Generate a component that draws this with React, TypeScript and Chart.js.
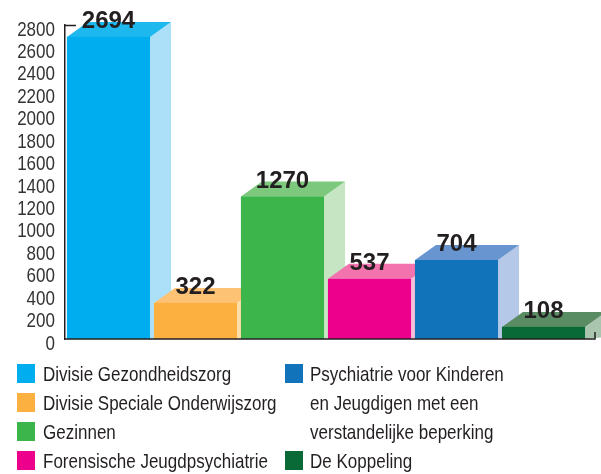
import React, { useEffect, useRef } from "react";
import { Chart, registerables } from "chart.js";

Chart.register(...registerables);

const categories = [
  "Divisie Gezondheidszorg",
  "Divisie Speciale Onderwijszorg",
  "Gezinnen",
  "Forensische Jeugdpsychiatrie",
  "Psychiatrie voor Kinderen en Jeugdigen met een verstandelijke beperking",
  "De Koppeling",
];
const values = [2694, 322, 1270, 537, 704, 108];
const yTicks = [0, 200, 400, 600, 800, 1000, 1200, 1400, 1600, 1800, 2000, 2200, 2400, 2600, 2800];
const frontColors = ["#00AEEF", "#FBB040", "#3CB64A", "#EC008C", "#1174BB", "#0A6A37"];
const topColors = ["#1DB8EE", "#FDC274", "#7CC97D", "#F273AD", "#6895CF", "#5A8C63"];
const sideColors = ["#ABE0F8", "#FDDDAA", "#C6E6C3", "#F8BED9", "#B5C8E8", "#A9C5AD"];

const legendLeft = [
  ["Divisie Gezondheidszorg"],
  ["Divisie Speciale Onderwijszorg"],
  ["Gezinnen"],
  ["Forensische Jeugdpsychiatrie"],
];
const legendRight = [
  ["Psychiatrie voor Kinderen", "en Jeugdigen met een", "verstandelijke beperking"],
  ["De Koppeling"],
];

const BASE_FONT = '"Liberation Sans", Arial, sans-serif';
const SQUEEZE = 0.81;
const DX = 21;
const DY = 15;

const box3d = {
  id: "box3d",
  afterDatasetsDraw(chart: any) {
    const ctx = chart.ctx;
    const meta = chart.getDatasetMeta(0);
    const area = chart.chartArea;
    const yScale = chart.scales.y;
    const tops: { x: number; y: number }[] = [];
    meta.data.forEach((bar: any, i: number) => {
      const { x, y, base, width } = bar.getProps(["x", "y", "base", "width"], true);
      const x0 = x - width / 2;
      const x1 = x + width / 2;
      ctx.save();
      ctx.fillStyle = sideColors[i];
      ctx.beginPath();
      ctx.moveTo(x1, y);
      ctx.lineTo(x1 + DX, y - DY);
      ctx.lineTo(x1 + DX, base - 2);
      ctx.lineTo(x1, base);
      ctx.closePath();
      ctx.fill();
      ctx.fillStyle = topColors[i];
      ctx.beginPath();
      ctx.moveTo(x0, y);
      ctx.lineTo(x0 + DX, y - DY);
      ctx.lineTo(x1 + DX, y - DY);
      ctx.lineTo(x1, y);
      ctx.closePath();
      ctx.fill();
      ctx.fillStyle = frontColors[i];
      ctx.fillRect(x0, y, width, base - y);
      ctx.restore();
      tops.push({ x, y: y - DY });
    });
    // axis decorations
    ctx.save();
    ctx.strokeStyle = "#231F20";
    ctx.lineWidth = 1.5;
    ctx.beginPath();
    ctx.moveTo(area.left, area.top + 0.5);
    ctx.lineTo(area.left + 11, area.top + 0.5);
    ctx.moveTo(area.left, area.bottom);
    ctx.lineTo(area.right + 8, area.bottom);
    ctx.lineTo(area.right + 8, area.bottom - 7);
    ctx.stroke();
    ctx.restore();
    // condensed tick labels
    ctx.save();
    ctx.font = "21px " + BASE_FONT;
    ctx.fillStyle = "#333333";
    ctx.textAlign = "right";
    ctx.textBaseline = "alphabetic";
    yTicks.forEach((t) => {
      const py = yScale.getPixelForValue(t);
      ctx.save();
      ctx.translate(area.left - 10, py + 10.5);
      ctx.scale(SQUEEZE, 1);
      ctx.fillText(String(t), 0, 0);
      ctx.restore();
    });
    ctx.restore();
    // value labels
    ctx.save();
    ctx.font = 'bold 24px "Liberation Sans", Arial, sans-serif';
    ctx.fillStyle = "#231F20";
    ctx.textAlign = "center";
    ctx.textBaseline = "alphabetic";
    tops.forEach((t, i) => {
      ctx.fillText(String(values[i]), t.x, t.y + 6);
    });
    ctx.restore();
  },
};

export default function App() {
  const ref = useRef<HTMLCanvasElement | null>(null);
  useEffect(() => {
    if (!ref.current) return;
    const chart = new Chart(ref.current, {
      type: "bar",
      data: {
        labels: categories,
        datasets: [
          {
            data: values,
            backgroundColor: frontColors,
            barPercentage: 0.955,
            categoryPercentage: 1,
          },
        ],
      },
      options: {
        animation: false,
        responsive: false,
        devicePixelRatio: 1,
        layout: { padding: { top: 25, right: 14, bottom: 135, left: 0 } },
        plugins: { legend: { display: false }, tooltip: { enabled: false } },
        scales: {
          x: { display: false },
          y: {
            min: 0,
            max: 2800,
            afterFit: (s: any) => {
              s.width = 65;
            },
            grid: { display: false, drawTicks: false },
            border: { display: true, color: "#231F20", width: 1.5 },
            ticks: { display: false, stepSize: 200, autoSkip: false },
          },
        },
      },
      plugins: [box3d],
    });
    return () => chart.destroy();
  }, []);

  const textStyle: React.CSSProperties = {
    position: "absolute",
    fontFamily: BASE_FONT,
    fontSize: 21,
    color: "#231F20",
    lineHeight: "24px",
    whiteSpace: "nowrap",
    transform: `scaleX(${SQUEEZE})`,
    transformOrigin: "0 0",
  };
  const sq = (left: number, top: number, color: string, key: string) => (
    <div key={key} style={{ position: "absolute", left, top, width: 18, height: 19, background: color }} />
  );
  const ROW0 = 364;
  const PITCH = 29;
  const items: React.ReactNode[] = [];
  legendLeft.forEach((lines, i) => {
    items.push(sq(17, ROW0 + i * PITCH, frontColors[i], "ls" + i));
    lines.forEach((l, j) => {
      items.push(
        <div key={"lt" + i + "-" + j} style={{ ...textStyle, left: 43, top: ROW0 + (i + j) * PITCH - 2 }}>
          {l}
        </div>
      );
    });
  });
  const rightRows = [0, 3];
  legendRight.forEach((lines, i) => {
    const r = rightRows[i];
    items.push(sq(285, ROW0 + r * PITCH, frontColors[4 + i], "rs" + i));
    lines.forEach((l, j) => {
      items.push(
        <div key={"rt" + i + "-" + j} style={{ ...textStyle, left: 310, top: ROW0 + (r + j) * PITCH - 2 }}>
          {l}
        </div>
      );
    });
  });

  return (
    <div style={{ position: "absolute", left: 0, top: 0, width: 601, height: 474, background: "#fff", overflow: "hidden" }}>
      <canvas ref={ref} width={601} height={474} style={{ display: "block", position: "absolute", left: 0, top: 0 }} />
      {items}
    </div>
  );
}
